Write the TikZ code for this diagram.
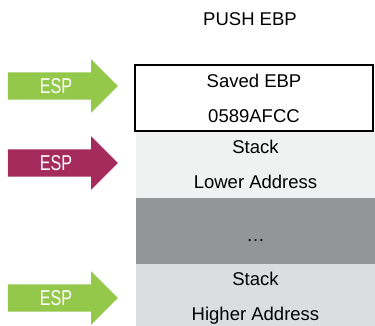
\documentclass[tikz,border=0pt]{standalone}
\usepackage{fontspec}
\setmainfont{Liberation Sans}
\newfontfamily\espfont{Liberation Sans}[FakeStretch=0.75]
\usepackage{tikz}
\usetikzlibrary{shapes.arrows}

\definecolor{espgreen}{HTML}{93C84B}
\definecolor{esppurple}{HTML}{A52B5C}
\definecolor{stacklight}{HTML}{F0F1F1}
\definecolor{stackdark}{HTML}{939598}
\definecolor{stackmid}{HTML}{DCDDDF}

\begin{document}
\begin{tikzpicture}[x=1pt, y=-1pt,
    every node/.style={font=\fontsize{18.5}{35}\selectfont},
    block/.style={rectangle, inner sep=0pt, minimum width=239pt, align=center},
    esparrow/.style={single arrow, inner xsep=6pt, inner ysep=6.5pt, text height=14pt, text depth=0pt,
        minimum height=110pt, single arrow head extend=13pt, single arrow head indent=0pt,
        text=white, font=\espfont\fontsize{21.5}{21.5}\selectfont}]
	\useasboundingbox (0,0) rectangle (375,325);
	\node (title) at (250,19) {PUSH EBP};
	\node[block, fill=stacklight, minimum height=67pt] (lower) at (255.5,164.5) {Stack\\Lower Address};
	\node[block, fill=stackdark, minimum height=66pt, text height=0pt, text depth=0pt] (dots) at (255.5,231) {\raisebox{-10pt}{\dots}};
	\node[block, fill=stackmid, minimum height=69pt] (higher) at (255.5,298.5) {Stack\\Higher Address};
	\node[block, draw=black, line width=1.2pt, fill=white, minimum width=238pt, minimum height=66pt] (saved) at (254,98) {Saved EBP\\0589AFCC};
	\node[esparrow, fill=espgreen] (esp1) at (56,86) {ESP};
	\node[esparrow, fill=esppurple] (esp2) at (56,163) {ESP};
	\node[esparrow, fill=espgreen] (esp3) at (56,298) {ESP};
\end{tikzpicture}
\end{document}
